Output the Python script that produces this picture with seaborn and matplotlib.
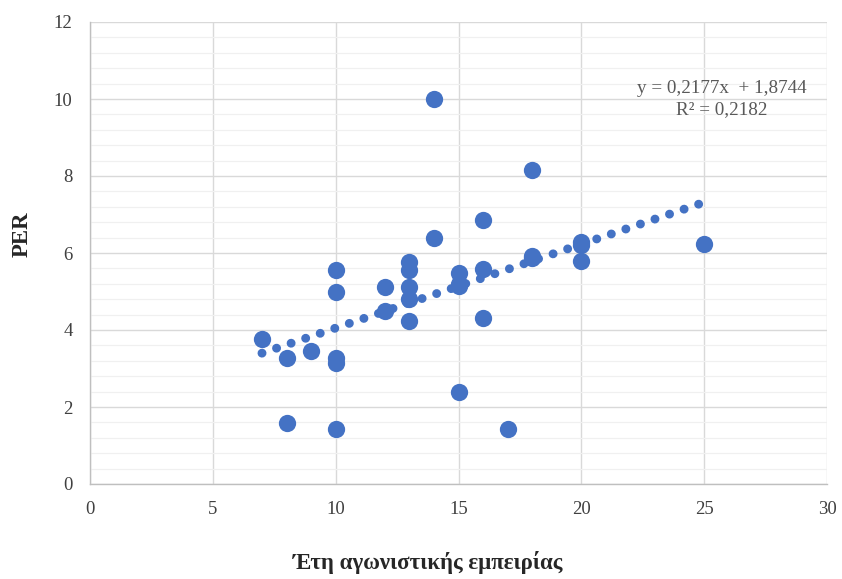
import numpy as np
import pandas as pd
import matplotlib
matplotlib.use("Agg")
import matplotlib.pyplot as plt
from matplotlib.ticker import MultipleLocator
import seaborn as sns

# Data
years = [7, 8, 8, 9, 10, 10, 10, 10, 10, 12, 12, 13, 13, 13, 13, 13, 14, 14,
         15, 15, 15, 15, 16, 16, 16, 17, 18, 18, 18, 20, 20, 20, 25]
per = [3.77, 3.28, 1.59, 3.45, 5.56, 4.98, 3.27, 3.14, 1.42, 5.12, 4.50, 5.77,
       5.56, 5.12, 4.80, 4.23, 6.40, 10.0, 5.49, 5.20, 5.15, 2.40, 6.85, 5.58,
       4.30, 1.42, 8.15, 5.92, 5.86, 6.28, 6.22, 5.79, 6.23]
slope = 0.2177
intercept = 1.8744
r2 = 0.2182
x_label = "Έτη αγωνιστικής εμπειρίας"
y_label = "PER"

df = pd.DataFrame({"x": years, "y": per})

sns.set_theme(style="white")
plt.rcParams['font.family'] = ['Liberation Serif', 'DejaVu Serif']

fig = plt.figure(figsize=(8.42, 5.79), dpi=100)
ax = fig.add_axes([90/842, 1-484/579, (827-90)/842, (484-22)/579])

blue = "#4472C4"
# trendline
xt = np.linspace(min(years), max(years), 200)
ax.plot(xt, slope*xt + intercept, color=blue, lw=6.4,
        linestyle=(0, (0.01, 1.72)), dash_capstyle='round', zorder=2)

sns.scatterplot(data=df, x="x", y="y", ax=ax, color=blue, s=155,
                edgecolor=blue, linewidth=0, zorder=3)

ax.set_xlim(0, 30)
ax.set_ylim(0, 12)
ax.xaxis.set_major_locator(MultipleLocator(5))
ax.yaxis.set_major_locator(MultipleLocator(2))
ax.yaxis.set_minor_locator(MultipleLocator(0.4))
ax.grid(True, which='major', axis='both', color='#d9d9d9', lw=1.0, zorder=0)
ax.grid(True, which='minor', axis='y', color='#f0f0f0', lw=0.9, zorder=0)
ax.set_axisbelow(True)

for s in ['top', 'right']:
    ax.spines[s].set_visible(False)
for s in ['left', 'bottom']:
    ax.spines[s].set_color('#bfbfbf')
    ax.spines[s].set_linewidth(1.0)

ax.tick_params(axis='both', which='major', direction='out', length=5,
               color='#bfbfbf', labelsize=13.5, labelcolor='#404040')
ax.tick_params(axis='y', which='minor', length=0)
ax.tick_params(axis='y', which='major', pad=7.5)
ax.tick_params(axis='x', which='major', pad=7)

ax.set_xlabel(x_label, fontsize=16.5, fontweight='bold', color='#262626')
ax.set_ylabel(y_label, fontsize=16.5, fontweight='bold', color='#262626')
ax.xaxis.set_label_coords((428-90)/737, -(562-484)/462)
ax.yaxis.set_label_coords((22-90)/737, (484-234)/462)
ax.xaxis.label.set_va('center')
ax.yaxis.label.set_va('center')

ax.text(0.857, 0.857, "y = 0,2177x  + 1,8744", transform=ax.transAxes,
        ha='center', va='center', fontsize=13.8, color='#595959')
ax.text(0.857, 0.81, f"R² = {str(r2).replace('.', ',')}", transform=ax.transAxes,
        ha='center', va='center', fontsize=13.8, color='#595959')

fig.savefig("out.png", dpi=100)
